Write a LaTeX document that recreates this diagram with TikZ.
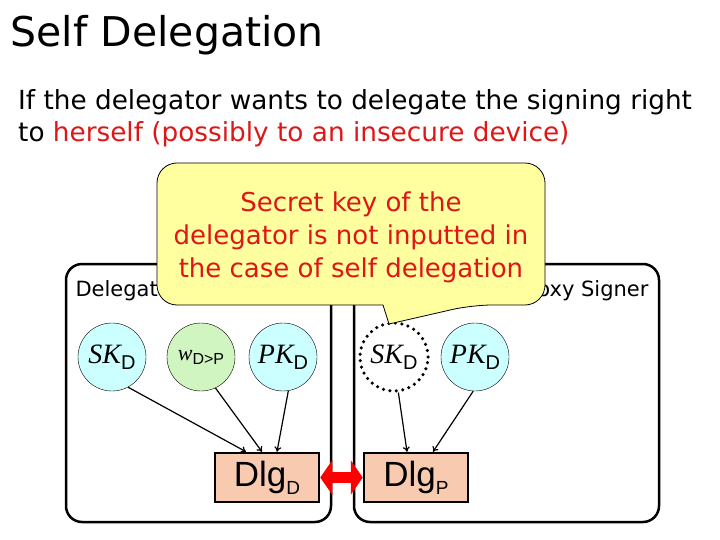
\documentclass[tikz,border=0pt]{standalone}
\usepackage{fontspec}
\setmainfont{DejaVu Sans}
\newfontfamily\keyfont{Liberation Serif}
\newfontfamily\arialfont{Liberation Sans}
\usetikzlibrary{arrows.meta}
\definecolor{hintred}{RGB}{222,22,22}
\definecolor{notefill}{RGB}{255,255,160}
\definecolor{keycyan}{RGB}{204,255,255}
\definecolor{witgreen}{RGB}{208,245,192}
\definecolor{dlgfill}{RGB}{248,203,176}
\newcommand\keyname[2]{{\keyfont\itshape\fontsize{28}{28}\selectfont #1}\raisebox{-6pt}{\arialfont\fontsize{20}{20}\selectfont #2}}
\tikzset{
  keynode/.style={circle,draw,thin,fill=keycyan,minimum size=68pt,inner sep=0pt},
  dlgnode/.style={draw,line width=2.5pt,fill=dlgfill,minimum width=104pt,minimum height=49pt,inner sep=0pt},
  party/.style={line width=2.5pt,rounded corners=16pt},
  feed/.style={line width=1.2pt,-{To[length=5pt,width=7pt]}},
}
\begin{document}
\begin{tikzpicture}[x=1pt,y=-1pt]
    \useasboundingbox (0,0) rectangle (720,540);
    %% Title and text
    \node[anchor=base west,font=\fontsize{41}{41}\selectfont] (title) at (7,47) {Self Delegation};
    \node[anchor=base west,font=\fontsize{26.3}{26.3}\selectfont,inner sep=0pt] (line1) at (18,110)
        {If the delegator wants to delegate the signing right};
    \node[anchor=base west,font=\fontsize{26.3}{26.3}\selectfont,inner sep=0pt] (line2) at (18,142)
        {to \textcolor{hintred}{herself (possibly to an insecure device)}};
    %% Delegator and proxy signer
    \draw[party] (66,264) rectangle (331,522);
    \draw[party] (354,264) rectangle (659,522);
    \node[anchor=base west,font=\fontsize{21}{21}\selectfont] (dlabel) at (72,296) {Delegator};
    \node[anchor=base east,font=\fontsize{21}{21}\selectfont] (plabel) at (652,296) {Proxy Signer};
    %% Keys
    \node[keynode] (skD) at (112,357) {\keyname{SK}{D}};
    \node[keynode,fill=witgreen] (wDP) at (201,357)
        {{\keyfont\itshape\fontsize{22}{22}\selectfont w}\raisebox{-4pt}{\arialfont\fontsize{16}{16}\selectfont D>P}};
    \node[keynode] (pkD) at (283,357) {\keyname{PK}{D}};
    \node[keynode,fill=white,draw=black,line width=3.5pt,dash pattern=on 0pt off 6.5pt,line cap=round] (skP) at (394,357) {\keyname{SK}{D}};
    \node[keynode] (pkP) at (475,357) {\keyname{PK}{D}};
    %% Delegation algorithms
    \node[dlgnode] (dlgD) at (267,477.5)
        {\arialfont\fontsize{35}{35}\selectfont Dlg\raisebox{-8pt}{\fontsize{19}{19}\selectfont D}};
    \node[dlgnode] (dlgP) at (416,477.5)
        {\arialfont\fontsize{35}{35}\selectfont Dlg\raisebox{-8pt}{\fontsize{19}{19}\selectfont P}};
    \draw[feed] (skD.-62) -- ([xshift=-21pt]dlgD.north);
    \draw[feed] (wDP.-65) -- ([xshift=-5pt]dlgD.north);
    \draw[feed] (pkD.-81) -- ([xshift=10pt]dlgD.north);
    \draw[feed] (skP.-83) -- ([xshift=-9pt]dlgP.north);
    \draw[feed] (pkP.-93) -- ([xshift=17pt]dlgP.north);
    %% Interaction
    \draw[line width=11pt,red,{Triangle[length=12pt,width=34pt]}-{Triangle[length=12pt,width=34pt]}]
        (dlgD.east) -- (dlgP.west);
    %% Callout
    \draw[fill=notefill,line width=0.8pt,rounded corners=20pt] (351,163) -- (545,163) -- (545,305) -- (472,305)
        [sharp corners] -- (389,324) -- (383,305) [rounded corners=20pt] -- (157,305) -- (157,163) -- cycle;
    \node[align=center,text=hintred,font=\fontsize{26}{33}\selectfont] (note) at (351,237)
        {Secret key of the\\delegator is not inputted in\\the case of self delegation};
\end{tikzpicture}
\end{document}
